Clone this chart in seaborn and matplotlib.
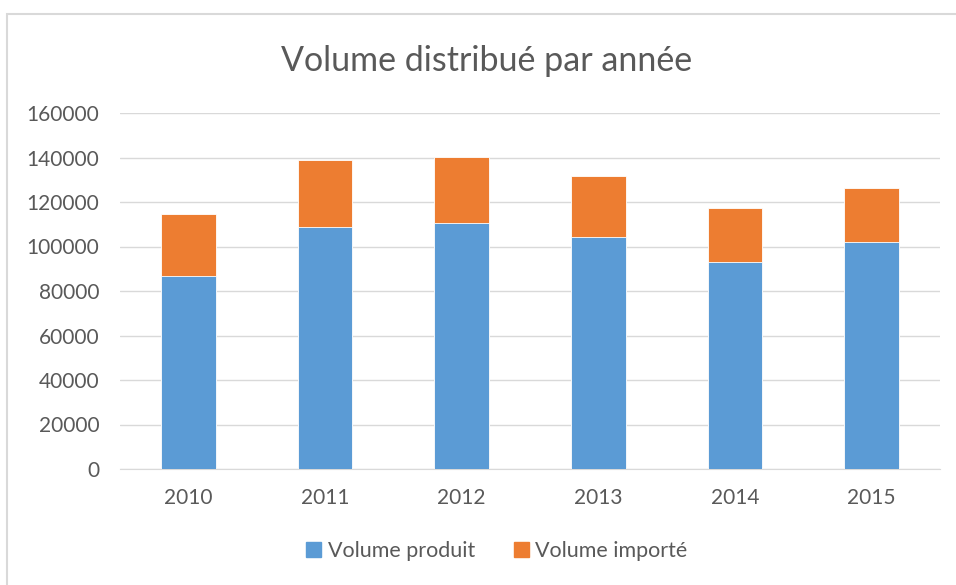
import pandas as pd
import matplotlib.pyplot as plt
import seaborn as sns
from matplotlib.patches import Rectangle, Patch


annees = ['2010', '2011', '2012', '2013', '2014', '2015']
volume_produit = [86700, 108600, 110400, 104200, 92900, 102000]
volume_importe = [27700, 30200, 29800, 27400, 24300, 24400]

df = pd.DataFrame({'annee': annees,
                   'produit': volume_produit,
                   'importe': volume_importe})
df['total'] = df['produit'] + df['importe']

bleu = '#5B9BD5'
orange = '#ED7D31'
gris = '#595959'

sns.set_style('white')
plt.rcParams['font.family'] = ['Lato', 'DejaVu Sans']

fig = plt.figure(figsize=(9.56, 5.85), dpi=100)
ax = fig.add_axes([120/956, 1-469/585, 820/956, 356/585])

# orange = total, blue drawn over it
sns.barplot(data=df, x='annee', y='total', color=orange, width=0.4,
            saturation=1, ax=ax, zorder=2)
sns.barplot(data=df, x='annee', y='produit', color=bleu, width=0.4,
            saturation=1, ax=ax, zorder=3)
for p in ax.patches:
    p.set_edgecolor('white')
    p.set_linewidth(0.6)

ax.set_xlim(-0.5, 5.5)
ax.set_ylim(0, 160000)
ax.set_yticks(range(0, 160001, 20000))
ax.yaxis.grid(True, color='#d9d9d9', linewidth=1, zorder=0)
ax.set_axisbelow(True)
sns.despine(ax=ax, left=True, top=True, right=True)
ax.spines['bottom'].set_color('#d9d9d9')
ax.tick_params(axis='both', length=0, labelsize=15, labelcolor=gris)
ax.tick_params(axis='y', pad=15)
ax.tick_params(axis='x', pad=14)
ax.set_xlabel('')
ax.set_ylabel('')

fig.text(487/956, 1-61/585, 'Volume distribué par année', ha='center',
         va='center', fontsize=24.5, color=gris)

handles = [Patch(color=bleu, label='Volume produit'),
           Patch(color=orange, label='Volume importé')]
fig.legend(handles=handles, loc='center', bbox_to_anchor=(497/956, 1-551/585),
           ncol=2, frameon=False, fontsize=15.5, labelcolor=gris,
           handlelength=0.7, handleheight=0.7, handletextpad=0.3,
           columnspacing=1.8)

fig.patches.append(Rectangle((7/956, -0.1), 1.1, 1-14/585+0.1,
                             transform=fig.transFigure, fill=False,
                             edgecolor='#d9d9d9', linewidth=1.5))

fig.savefig('out.png', dpi=100)
